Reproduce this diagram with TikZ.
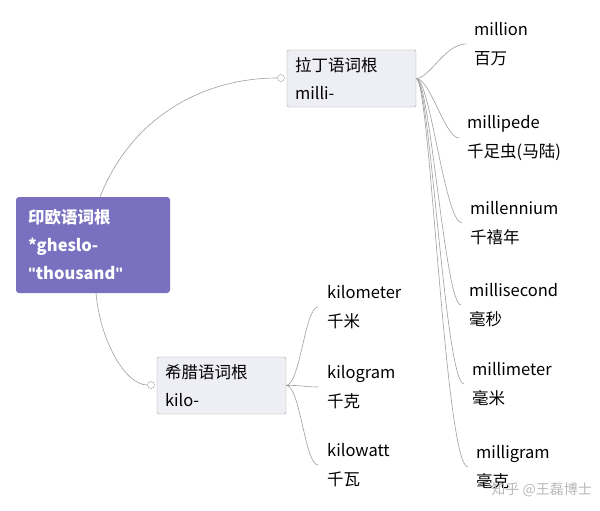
\documentclass[tikz,border=0pt]{standalone}
\usepackage{fontspec}
\setmainfont{Noto Sans CJK SC}
\newfontfamily\qfont{Liberation Sans}
\begin{document}
\begin{tikzpicture}[x=1pt,y=-1pt,
  con/.style={draw=gray!75,line width=0.6pt},
  leaf/.style={anchor=west,align=left,font=\fontsize{16.5}{28.5}\selectfont,inner sep=0pt},
  sub/.style={draw=gray!70,fill=boxbg,rounded corners=1.5pt,minimum width=129pt,minimum height=57pt,text width=113pt,align=left,font=\fontsize{16.5}{28}\selectfont,inner sep=0pt},
  knob/.style={circle,draw=gray!80,fill=white,inner sep=0pt,minimum size=7pt}]
\definecolor{rootc}{HTML}{7A70C0}
\definecolor{boxbg}{HTML}{EEEEF5}
\useasboundingbox (0,0) rectangle (600,511);
\fill[white] (0,0) rectangle (600,511);
% root
\node[fill=rootc,rounded corners=3pt,minimum width=154pt,minimum height=96pt,text width=130pt,align=left,text=white,font=\bfseries\fontsize{16.5}{28}\selectfont,inner sep=0pt] (root) at (93,245) {印欧语词根\\{}*gheslo-\\{\qfont\char34}thousand{\qfont\char34}};
\node[sub] (lat) at (351.5,78.5) {拉丁语词根\\milli-};
\node[sub] (gre) at (221.5,385.5) {希腊语词根\\kilo-};
\node[knob] (k1) at (281,78) {};
\node[knob] (k2) at (151,385) {};
\draw[con] (100,197) .. controls (130,120) and (200,78) .. (k1.west);
\draw[con] (96,293) .. controls (100,340) and (125,385) .. (k2.west);
% latin leaves
\foreach \n/\y/\x/\a/\b in {m1/44/474/million/百万, m2/138/467/millipede/千足虫(马陆), m3/223/470/millennium/千禧年, m4/305/469/millisecond/毫秒, m5/384/472/millimeter/毫米, m6/467/476/milligram/毫克}{
  \node[leaf] (\n) at (\x,\y) {\a\\\b};
  \coordinate (\n c) at ([xshift=-8pt]\n.west);
  \draw[con] (lat.east) .. controls (430,78) and (445,\y) .. (\n c);
}
% greek leaves
\foreach \n/\y/\a/\b in {g1/307/kilometer/千米, g2/387/kilogram/千克, g3/465/kilowatt/千瓦}{
  \node[leaf] (\n) at (327,\y) {\a\\\b};
  \coordinate (\n c) at ([xshift=-9pt]\n.west);
  \draw[con] (gre.east) .. controls (300,385) and (305,\y) .. (\n c);
}
\node[anchor=east,text=gray!55,font=\fontsize{14}{16}\selectfont,inner sep=0pt] (wm) at (592,490) {知乎 @王磊博士};
\end{tikzpicture}
\end{document}
